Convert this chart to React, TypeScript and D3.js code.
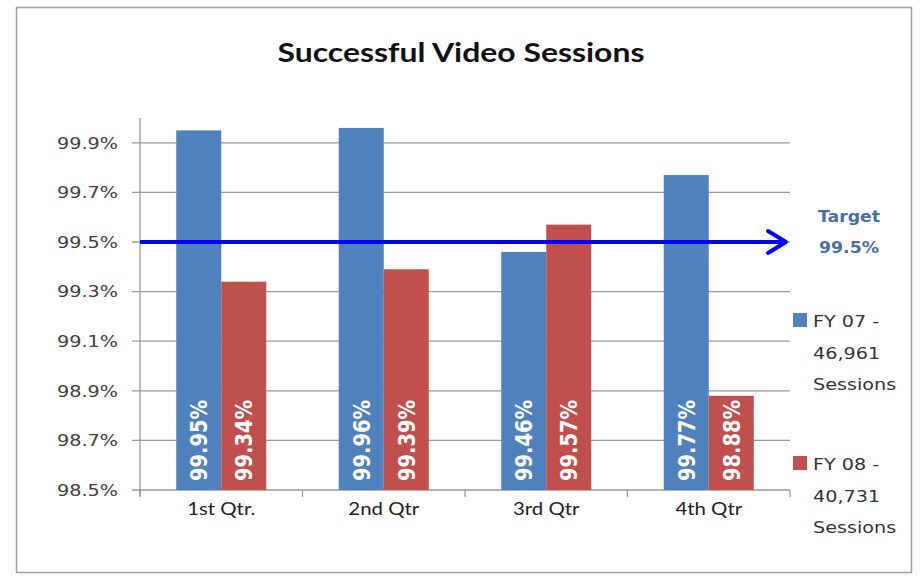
import React, {useEffect, useRef} from "react";
import * as d3 from "d3";

const quarters = ["1st Qtr.", "2nd Qtr", "3rd Qtr", "4th Qtr"]
const fy07 = [99.95, 99.96, 99.46, 99.77]
const fy08 = [99.34, 99.39, 99.57, 98.88]
const yTicks = [98.5, 98.7, 98.9, 99.1, 99.3, 99.5, 99.7, 99.9]
const target = 99.5
const targetLabel = ["Target", "99.5%"]
const legend07 = ["FY 07 -", "46,961", "Sessions"]
const legend08 = ["FY 08 -", "40,731", "Sessions"]

const BLUE = "#4f81bd"
const RED = "#c0504d"
const GRID = "#9a9a9a"
const TEXT = "#404040"
const SX = 1.2 // the picture is stretched sideways a little

const App = () => {
    const svgRef = useRef(null)

    useEffect(() => {
        const svg = d3.select(svgRef.current)
        svg.selectAll("*").remove()

        const left = 140, right = 790, top = 118, bottom = 490

        const y = d3.scaleLinear().domain([98.5, 100]).range([bottom, top])
        const x = d3.scaleBand().domain(quarters).range([left, right])
            .paddingInner(0.446).paddingOuter(0.223)
        const xs = d3.scaleBand().domain(["a", "b"]).range([0, x.bandwidth()])
        const edges = d3.scaleLinear().domain([0, quarters.length]).range([left, right])

        // frame
        svg.append("rect")
            .attr("x", 16.5).attr("y", 7.5).attr("width", 895).attr("height", 565)
            .attr("fill", "white").attr("stroke", "#a0a0a0").attr("stroke-width", 1.5)

        // title
        svg.append("text")
            .attr("x", 461).attr("y", 62)
            .attr("text-anchor", "middle")
            .attr("font-family", "Lato, 'Open Sans', sans-serif")
            .attr("font-weight", 700)
            .attr("font-size", 27)
            .attr("fill", "#111")
            .attr("textLength", 367).attr("lengthAdjust", "spacingAndGlyphs")
            .text("Successful Video Sessions")

        // gridlines
        svg.append("g")
            .selectAll("line")
            .data(yTicks)
            .join("line")
            .attr("x1", left - 8).attr("x2", right)
            .attr("y1", d => y(d)).attr("y2", d => y(d))
            .attr("stroke", GRID).attr("stroke-width", 1.3)

        // y axis line
        svg.append("line")
            .attr("x1", left).attr("x2", left).attr("y1", top).attr("y2", bottom + 6)
            .attr("stroke", GRID).attr("stroke-width", 1.3)

        // y tick labels
        svg.append("g")
            .selectAll("g")
            .data(yTicks)
            .join("g")
            .attr("transform", d => `translate(${left - 22},${y(d)}) scale(${SX},1)`)
            .append("text")
            .attr("text-anchor", "end")
            .attr("dy", "0.36em")
            .attr("font-family", "'DejaVu Sans', sans-serif")
            .attr("font-size", 16)
            .attr("fill", TEXT)
            .text(d => d3.format(".1f")(d) + "%")

        // x axis ticks at category edges
        svg.append("g")
            .selectAll("line")
            .data(d3.range(quarters.length + 1))
            .join("line")
            .attr("x1", d => edges(d)).attr("x2", d => edges(d))
            .attr("y1", bottom).attr("y2", bottom + 7)
            .attr("stroke", GRID).attr("stroke-width", 1.3)

        // bars
        const groups = svg.append("g")
            .selectAll("g")
            .data(quarters)
            .join("g")
            .attr("transform", d => `translate(${x(d)},0)`)

        const series = [
            {key: "a", values: fy07, color: BLUE},
            {key: "b", values: fy08, color: RED},
        ]

        series.forEach(s => {
            groups.append("rect")
                .attr("x", xs(s.key)!)
                .attr("width", xs.bandwidth())
                .attr("y", (d, i) => y(s.values[i]))
                .attr("height", (d, i) => y(98.5) - y(s.values[i]))
                .attr("fill", s.color)

            groups.append("g")
                .attr("transform", () => `translate(${xs(s.key)! + xs.bandwidth() / 2},${bottom - 9}) scale(${SX},1) rotate(-90)`)
                .append("text")
                .attr("dy", "0.36em")
                .attr("font-family", "'DejaVu Sans', sans-serif")
                .attr("font-weight", 700)
                .attr("font-size", 19.5)
                .attr("fill", "white")
                .text((d, i) => d3.format(".2f")(s.values[i]) + "%")
        })

        // category labels
        svg.append("g")
            .selectAll("g")
            .data(quarters)
            .join("g")
            .attr("transform", d => `translate(${x(d)! + x.bandwidth() / 2},515) scale(${SX},1)`)
            .append("text")
            .attr("text-anchor", "middle")
            .attr("font-family", "Lato, sans-serif")
            .attr("font-size", 17)
            .attr("fill", "#222")
            .text(d => d)

        // target arrow
        const ty = y(target)
        svg.append("line")
            .attr("x1", left).attr("x2", 785).attr("y1", ty).attr("y2", ty)
            .attr("stroke", "#0000ff").attr("stroke-width", 4)
        svg.append("path")
            .attr("d", d3.line()([[768, ty - 11], [786, ty], [768, ty + 11]]))
            .attr("fill", "none").attr("stroke", "#0000ff").attr("stroke-width", 4)
            .attr("stroke-linecap", "round").attr("stroke-linejoin", "round")

        svg.append("g")
            .selectAll("g")
            .data(targetLabel)
            .join("g")
            .attr("transform", (d, i) => `translate(849,${222 + i * 31}) scale(1.05,1)`)
            .append("text")
            .attr("text-anchor", "middle")
            .attr("font-family", "'DejaVu Sans', sans-serif")
            .attr("font-weight", 700)
            .attr("font-size", 16.5)
            .attr("fill", "#4a6fa5")
            .text(d => d)

        // legend
        const legends = [
            {lines: legend07, color: BLUE, y0: 327},
            {lines: legend08, color: RED, y0: 470},
        ]
        legends.forEach(l => {
            svg.append("rect")
                .attr("x", 793).attr("y", l.y0 - 14).attr("width", 14).attr("height", 14)
                .attr("fill", l.color)
            svg.append("g")
                .selectAll("g")
                .data(l.lines)
                .join("g")
                .attr("transform", (d, i) => `translate(813,${l.y0 + i * 31.5}) scale(${SX},1)`)
                .append("text")
                .attr("font-family", "'DejaVu Sans', sans-serif")
                .attr("font-size", 16)
                .attr("fill", "#333")
                .text(d => d)
        })
    }, [])

    return (
        <svg ref={svgRef} width={921} height={579}
             style={{position: "absolute", left: 0, top: 0, background: "white"}}/>
    );
};

export default App;
